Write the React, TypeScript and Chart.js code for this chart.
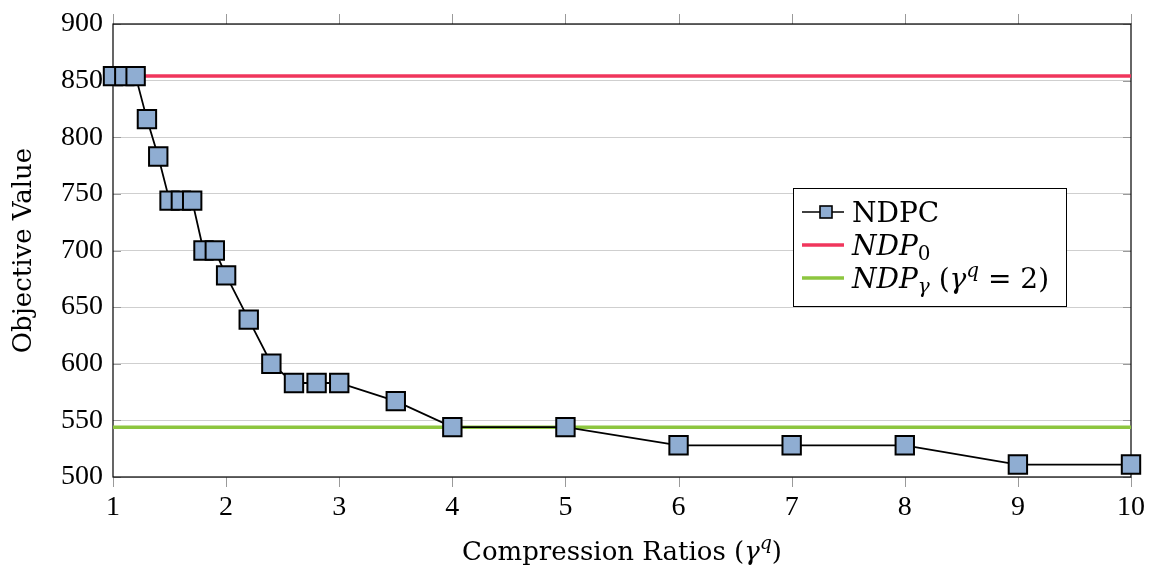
import React, { useEffect, useRef } from 'react';
import { Chart, registerables } from 'chart.js';

Chart.register(...registerables);

const ratios = [1, 1.1, 1.2, 1.3, 1.4, 1.5, 1.6, 1.7, 1.8, 1.9, 2, 2.2, 2.4, 2.6, 2.8, 3, 3.5, 4, 5, 6, 7, 8, 9, 10];
const ndpcValues = [854, 854, 854, 816, 783, 744, 744, 744, 700, 700, 678, 639, 600, 583, 583, 583, 567, 544, 544, 528, 528, 528, 511, 511];
const ndp0Value = 854;
const ndpGammaValue = 544;
const xRange = [1, 10];
const yRange = [500, 900];

const SERIF = '"Liberation Serif", "DejaVu Serif", serif';
const TSERIF = '"DejaVu Serif", "Liberation Serif", serif';
const FS = 28;
const TFS = 26;
const LFS = 28;
const MARKER_FILL = '#8fadd2';
const RED = '#f0365c';
const GREEN = '#8dc63f';

type Part = { t: string; it?: boolean; s?: number; dy?: number };

function drawRich(ctx: CanvasRenderingContext2D, x: number, y: number, parts: Part[], align: 'left' | 'center' = 'left', base = TFS) {
  const fontOf = (p: Part) => `${p.it ? 'italic ' : ''}${p.s ?? base}px ${TSERIF}`;
  let total = 0;
  for (const p of parts) {
    ctx.font = fontOf(p);
    total += ctx.measureText(p.t).width;
  }
  let cx = align === 'center' ? x - total / 2 : x;
  ctx.textAlign = 'left';
  ctx.textBaseline = 'alphabetic';
  ctx.fillStyle = '#000';
  for (const p of parts) {
    ctx.font = fontOf(p);
    ctx.fillText(p.t, cx, y + (p.dy ?? 0));
    cx += ctx.measureText(p.t).width;
  }
}

const zeroPad = (s: any) => {
  s.paddingTop = 0;
  s.paddingBottom = 0;
  s.paddingLeft = 0;
  s.paddingRight = 0;
};

const framePlugin = {
  id: 'frame',
  beforeDatasetsDraw(chart: any) {
    const { ctx, chartArea: ca, scales } = chart;
    ctx.save();
    ctx.strokeStyle = '#9a9a9a';
    ctx.lineWidth = 1;
    const xs = scales.x;
    xs.ticks.forEach((t: any) => {
      const px = Math.round(xs.getPixelForValue(t.value)) + 0.5;
      ctx.beginPath();
      ctx.moveTo(px, ca.bottom);
      ctx.lineTo(px, ca.bottom + 10);
      ctx.moveTo(px, ca.top);
      ctx.lineTo(px, ca.top - 10);
      ctx.stroke();
    });
    const ys = scales.y;
    ys.ticks.forEach((t: any) => {
      const py = Math.round(ys.getPixelForValue(t.value)) + 0.5;
      ctx.beginPath();
      ctx.moveTo(ca.left, py);
      ctx.lineTo(ca.left + 8, py);
      ctx.moveTo(ca.right, py);
      ctx.lineTo(ca.right - 8, py);
      ctx.stroke();
    });
    ctx.strokeStyle = '#000';
    ctx.lineWidth = 1.2;
    ctx.strokeRect(ca.left, ca.top, ca.right - ca.left, ca.bottom - ca.top);
    ctx.restore();
  },
  afterDraw(chart: any) {
    const { ctx, chartArea: ca } = chart;
    ctx.save();
    drawRich(ctx, (ca.left + ca.right) / 2, 560, [
      { t: 'Compression Ratios (' },
      { t: 'γ', it: true },
      { t: 'q', it: true, s: 19, dy: -11 },
      { t: ')' },
    ], 'center');
    ctx.save();
    ctx.translate(31, (ca.top + ca.bottom) / 2);
    ctx.rotate(-Math.PI / 2);
    drawRich(ctx, 0, 0, [{ t: 'Objective Value' }], 'center');
    ctx.restore();

    const lx = ca.left + 680;
    const ly = ca.top + 164;
    const lw = 273;
    const lh = 118;
    ctx.fillStyle = '#fff';
    ctx.fillRect(lx, ly, lw, lh);
    ctx.strokeStyle = '#000';
    ctx.lineWidth = 1;
    ctx.strokeRect(lx + 0.5, ly + 0.5, lw, lh);
    const sx0 = lx + 9;
    const sx1 = lx + 51;
    const rows = [ly + 24, ly + 57, ly + 90];
    ctx.strokeStyle = '#000';
    ctx.lineWidth = 1.5;
    ctx.beginPath();
    ctx.moveTo(sx0, rows[0]);
    ctx.lineTo(sx1, rows[0]);
    ctx.stroke();
    const mc = (sx0 + sx1) / 2 + 3;
    ctx.fillStyle = MARKER_FILL;
    ctx.fillRect(mc - 6, rows[0] - 6, 12, 12);
    ctx.lineWidth = 1.6;
    ctx.strokeRect(mc - 6, rows[0] - 6, 12, 12);
    ctx.strokeStyle = RED;
    ctx.lineWidth = 3.5;
    ctx.beginPath();
    ctx.moveTo(sx0, rows[1]);
    ctx.lineTo(sx1, rows[1]);
    ctx.stroke();
    ctx.strokeStyle = GREEN;
    ctx.beginPath();
    ctx.moveTo(sx0, rows[2]);
    ctx.lineTo(sx1, rows[2]);
    ctx.stroke();
    const tx = lx + 59;
    drawRich(ctx, tx, rows[0] + 10, [{ t: 'NDPC' }], 'left', LFS);
    drawRich(ctx, tx, rows[1] + 10, [
      { t: 'NDP', it: true },
      { t: '0', s: 20, dy: 5 },
    ], 'left', LFS);
    drawRich(ctx, tx, rows[2] + 10, [
      { t: 'NDP', it: true },
      { t: 'γ', it: true, s: 20, dy: 5 },
      { t: ' (' },
      { t: 'γ', it: true },
      { t: 'q', it: true, s: 20, dy: -11 },
      { t: ' = 2)' },
    ], 'left', LFS);
    ctx.restore();
  },
};

export default function App() {
  const ref = useRef<HTMLCanvasElement | null>(null);
  useEffect(() => {
    if (!ref.current) return;
    const chart = new Chart(ref.current, {
      type: 'scatter',
      data: {
        datasets: [
          {
            label: 'NDPC',
            data: ratios.map((x, i) => ({ x, y: ndpcValues[i] })),
            showLine: true,
            borderColor: '#000',
            borderWidth: 1.8,
            pointStyle: 'rect',
            pointRadius: 13,
            pointHoverRadius: 13,
            pointBackgroundColor: MARKER_FILL,
            pointBorderColor: '#000',
            pointBorderWidth: 2,
            clip: false,
          } as any,
          {
            label: 'NDP0',
            data: [{ x: xRange[0], y: ndp0Value }, { x: xRange[1], y: ndp0Value }],
            showLine: true,
            borderColor: RED,
            borderWidth: 3.5,
            pointRadius: 0,
          },
          {
            label: 'NDPgamma',
            data: [{ x: xRange[0], y: ndpGammaValue }, { x: xRange[1], y: ndpGammaValue }],
            showLine: true,
            borderColor: GREEN,
            borderWidth: 3.5,
            pointRadius: 0,
          },
        ],
      },
      options: {
        animation: false,
        responsive: true,
        maintainAspectRatio: false,
        layout: { padding: { top: 24, right: 18, left: 0, bottom: 0 } },
        plugins: { legend: { display: false }, tooltip: { enabled: false } },
        scales: {
          x: {
            type: 'linear',
            min: xRange[0],
            max: xRange[1],
            ticks: { stepSize: 1, color: '#000', font: { family: SERIF, size: FS }, padding: 14, maxRotation: 0 },
            grid: { display: false, drawTicks: false },
            border: { display: false },
            afterFit: (s: any) => { s.height = 91; zeroPad(s); },
          },
          y: {
            min: yRange[0],
            max: yRange[1],
            ticks: { stepSize: 50, color: '#000', font: { family: SERIF, size: FS }, padding: 10 },
            grid: { color: '#cfcfcf', lineWidth: 1, drawTicks: false },
            border: { display: false },
            afterFit: (s: any) => { s.width = 113; zeroPad(s); },
          },
        },
      },
      plugins: [framePlugin],
    });
    return () => chart.destroy();
  }, []);
  return (
    <div style={{ position: 'fixed', left: 0, top: 0, width: 1149, height: 568, background: '#fff' }}>
      <canvas ref={ref} />
    </div>
  );
}
